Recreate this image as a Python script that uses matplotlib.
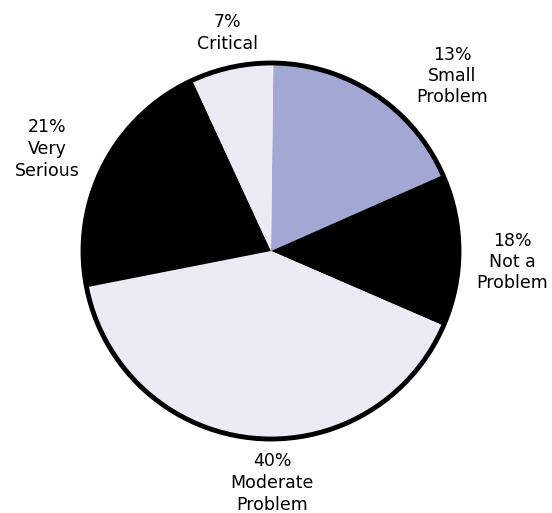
import matplotlib
matplotlib.use("Agg")
import matplotlib.pyplot as plt

# slice sizes as drawn, clockwise from 12 o'clock
categories = ["Small Problem", "Not a Problem", "Moderate Problem", "Very Serious", "Critical"]
sizes = [18, 13, 40, 21, 7]
# label text as printed on the chart
label_texts = ["13%\nSmall\nProblem", "18%\nNot a\nProblem", "40%\nModerate\nProblem",
               "21%\nVery\nSerious", "7%\nCritical"]
colors = ["#A3A7D4", "#000000", "#ECEBF5", "#000000", "#ECEBF5"]

W, H = 552, 513
fig = plt.figure(figsize=(W / 100, H / 100), dpi=100)
ax = fig.add_axes([0, 0, 1, 1])

cx, cy, r = 271, H - 251, 188
ax.pie(sizes, colors=colors, startangle=89.3, counterclock=False,
       center=(cx, cy), radius=r, wedgeprops=dict(linewidth=0))
# thick outline round the pie
ax.add_patch(plt.Circle((cx, cy), r, fill=False, edgecolor="black", linewidth=3.5))

# label placement (pixel coords from top-left)
label_pos = [(452, 76), (512, 262), (272, 483), (47, 149), (227, 33)]
for txt, (x, y) in zip(label_texts, label_pos):
    ax.text(x, H - y, txt, ha="center", va="center", fontsize=12.5,
            linespacing=1.25, family="DejaVu Sans")

ax.set_xlim(0, W)
ax.set_ylim(0, H)
ax.set_aspect("equal")
ax.axis("off")

fig.savefig("out.png", dpi=100)
